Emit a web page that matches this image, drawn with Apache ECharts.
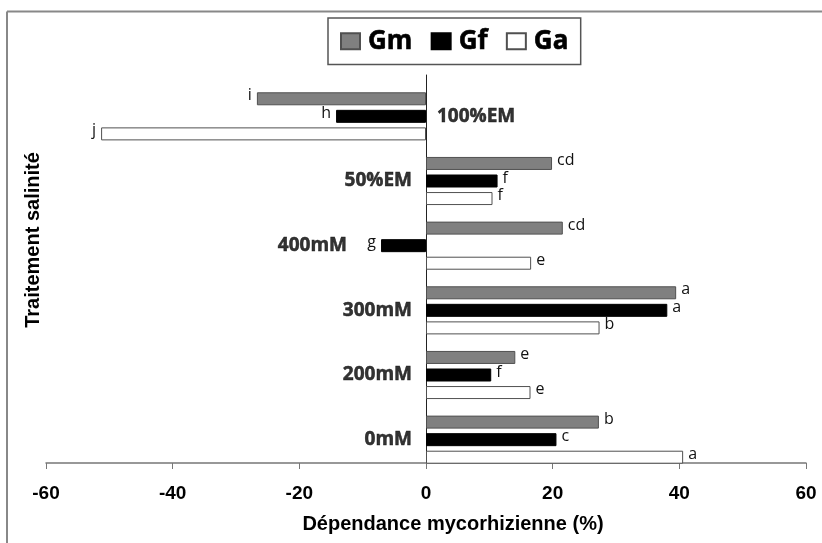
<!DOCTYPE html>
<html><head><meta charset="utf-8">
<script src="https://cdn.jsdelivr.net/npm/echarts@6/dist/echarts.min.js"></script>
<style>html,body{margin:0;padding:0;background:#fff}#c{width:822px;height:543px}</style>
</head><body><div id="c"></div>
<script>
// Categories bottom to top
const categories = ['0mM','200mM','300mM','400mM','50%EM','100%EM'];
const seriesNames = ['Gm','Gf','Ga'];
const gmValues = [27.3, 14.1, 39.5, 21.6, 19.9, -26.7];
const gfValues = [20.6, 10.3, 38.1, -7.1, 11.3, -14.2];
const gaValues = [40.6, 16.5, 27.4, 16.6, 10.5, -51.3];
const gmLetters = ['b','e','a','cd','cd','i'];
const gfLetters = ['c','f','a','g','f','h'];
const gaLetters = ['a','e','b','e','f','j'];
const xTicks = [-60,-40,-20,0,20,40,60];

const chart = echarts.init(document.getElementById('c'), null, {renderer:'canvas'});

function barSeries(name, values, letters, fill, border) {
  return {
    name, type:'bar', xAxisIndex:1, yAxisIndex:1, barWidth:13, barGap:'35%',
    itemStyle:{color:fill, borderColor:border, borderWidth:1},
    data: values.map((v,i)=>({value:v, label:{position: v<0?'left':'right'}})),
    label:{show:true, distance:5, offset:[0,-3], color:'#111', fontFamily:'Open Sans', fontSize:16,
      formatter:(p)=>letters[p.dataIndex]}
  };
}

function catLabelPos(c){ return c==='100%EM' ? 'right' : 'left'; }
function catLabelDist(c){ return c==='100%EM' ? 11 : (c==='400mM' ? 79 : 14); }

const option = {
  animation:false,
  backgroundColor:'#fff',
  grid:[
    {left:46, right:16, top:75, bottom:80},
    {left:46, right:16, top:84, bottom:71}
  ],
  legend:{
    data:seriesNames, left:328, top:18, icon:'rect', itemWidth:19, itemHeight:16, itemGap:18,
    borderColor:'#555', borderWidth:1.5, padding:[10,12,10,12],
    textStyle:{fontFamily:'Open Sans', fontWeight:'bold', fontSize:26, color:'#000', padding:[0,0,0,3],
      textBorderColor:'#000', textBorderWidth:0.6}
  },
  xAxis:[{
    gridIndex:0, type:'value', min:-60, max:60, interval:20,
    axisLine:{show:true, lineStyle:{color:'#777', width:1.5}},
    axisTick:{show:true, length:6, lineStyle:{color:'#777'}},
    splitLine:{show:false},
    axisLabel:{margin:21, fontFamily:'Liberation Sans', fontWeight:'bold', fontSize:19, color:'#000',
      formatter:(v)=>xTicks.includes(v)?String(v):''},
    name:'Dépendance mycorhizienne (%)', nameLocation:'middle', nameGap:51,
    nameTextStyle:{fontFamily:'Liberation Sans', fontWeight:'bold', fontSize:20, color:'#000', padding:[0,0,0,54]}
  },{
    gridIndex:1, type:'value', min:-60, max:60, interval:20, show:false
  }],
  yAxis:[{
    gridIndex:0, type:'category', data:categories,
    axisLine:{show:true, onZero:true, lineStyle:{color:'#222', width:1}},
    axisTick:{show:false}, axisLabel:{show:false}, splitLine:{show:false}
  },{
    gridIndex:1, type:'category', data:categories, show:false
  }],
  graphic:[
    {type:'line', shape:{x1:7, y1:11.5, x2:822, y2:11.5}, style:{stroke:'#888', lineWidth:2}},
    {type:'line', shape:{x1:7, y1:11.5, x2:7, y2:543}, style:{stroke:'#888', lineWidth:2}},
    {type:'text', x:33, y:240, rotation:Math.PI/2,
      style:{text:'Traitement salinité', textAlign:'center', textVerticalAlign:'middle',
        font:'bold 20px "Liberation Sans"', fill:'#000'}}
  ],
  series:[
    barSeries('Gm', gmValues, gmLetters, '#808080', '#505050'),
    barSeries('Gf', gfValues, gfLetters, '#000000', '#000'),
    barSeries('Ga', gaValues, gaLetters, '#ffffff', '#505050'),
    {
      type:'scatter', xAxisIndex:1, yAxisIndex:1, symbolSize:0, silent:true,
      data: categories.map(c=>({value:[0,c], label:{position:catLabelPos(c), distance:catLabelDist(c)}})),
      label:{show:true, fontFamily:'Open Sans', fontWeight:'bold', fontSize:19, color:'#000',
        textBorderColor:'#000', textBorderWidth:0.5,
        formatter:(p)=>p.value[1]}
    }
  ]
};
chart.setOption(option);
</script></body></html>
